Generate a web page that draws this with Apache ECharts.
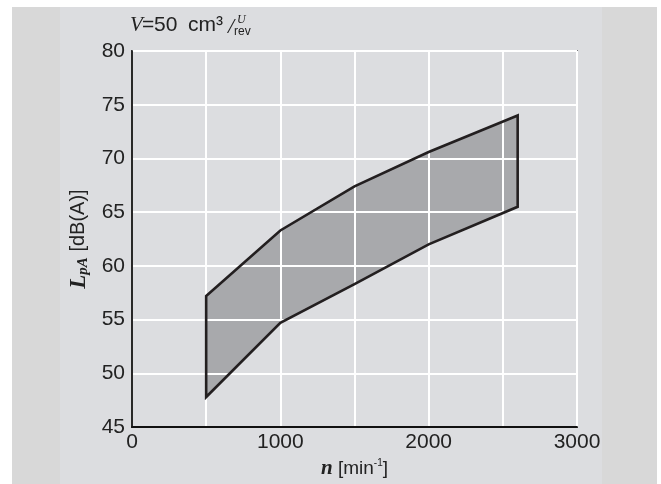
<!DOCTYPE html>
<html>
<head>
<meta charset="utf-8">
<script src="https://cdn.jsdelivr.net/npm/echarts@6/dist/echarts.min.js"></script>
<style>html,body{margin:0;padding:0;background:#fff}#c{width:661px;height:484px}</style>
</head>
<body>
<div id="c"></div>
<script>
// Data
const speed = [500, 1000, 1500, 2000, 2600];          // n [min^-1]
const upperLevel = [57.2, 63.3, 67.4, 70.6, 74.0];    // L_pA upper boundary
const lowerLevel = [47.8, 54.7, 58.3, 62.0, 65.5];    // L_pA lower boundary
const xTicks = [0, 1000, 2000, 3000];
const yTicks = [45, 50, 55, 60, 65, 70, 75, 80];

// polygon: upper boundary then lower boundary reversed
const polyData = [];
for (let i = 0; i < speed.length; i++) polyData.push([speed[i], upperLevel[i]]);
for (let i = speed.length - 1; i >= 0; i--) polyData.push([speed[i], lowerLevel[i]]);

const SANS = '"Liberation Sans", Arial, sans-serif';
const SERIF = '"Liberation Serif", "Times New Roman", serif';
const PANEL = '#dcdde0';

function polyRender(stroke) {
  return function (params, api) {
    if (params.dataIndex !== 0) return null;
    const pts = polyData.map(p => api.coord(p));
    return {
      type: 'polygon',
      shape: { points: pts },
      style: stroke
        ? { fill: null, stroke: '#231f20', lineWidth: 2.6 }
        : { fill: '#a8a9ac', stroke: null }
    };
  };
}

const chart = echarts.init(document.getElementById('c'), null, { renderer: 'canvas' });
chart.setOption({
  backgroundColor: '#ffffff',
  animation: false,
  graphic: [
    { type: 'rect', z: -20, shape: { x: 12, y: 7, width: 645, height: 477 }, style: { fill: '#d8d8d8' } },
    { type: 'rect', z: -19, shape: { x: 60, y: 7, width: 542, height: 477 }, style: { fill: PANEL } },
    { type: 'text', z: 5, x: 130, y: 36, style: { text: 'V', font: 'italic 21px ' + SERIF, fill: '#222', textVerticalAlign: 'bottom' } },
    { type: 'text', z: 5, x: 142, y: 36, style: { text: '=', font: '21px ' + SANS, fill: '#222', textVerticalAlign: 'bottom' } },
    { type: 'text', z: 5, x: 154, y: 36, style: { text: '50', font: '21px ' + SANS, fill: '#222', textVerticalAlign: 'bottom' } },
    { type: 'text', z: 5, x: 188, y: 36, style: { text: 'cm³', font: '21px ' + SANS, fill: '#222', textVerticalAlign: 'bottom' } },
    { type: 'text', z: 5, x: 228, y: 38, style: { text: '/', font: 'italic 22px ' + SERIF, fill: '#222', textVerticalAlign: 'bottom' } },
    { type: 'text', z: 5, x: 237, y: 26, style: { text: 'U', font: 'italic 12px ' + SERIF, fill: '#222', textVerticalAlign: 'bottom' } },
    { type: 'text', z: 5, x: 234, y: 38, style: { text: 'rev', font: '12px ' + SANS, fill: '#222', textVerticalAlign: 'bottom' } }
  ],
  grid: {
    left: 132, right: 84, top: 51, bottom: 51,
    show: true, backgroundColor: PANEL, borderColor: '#3a3a3a', borderWidth: 1.6
  },
  xAxis: {
    type: 'value', min: 0, max: 3000, interval: 500, z: 5,
    axisLine: { show: true, onZero: false, lineStyle: { color: '#111', width: 1.8 } },
    axisTick: { show: false },
    splitLine: { show: true, lineStyle: { color: '#ffffff', width: 2 } },
    axisLabel: {
      margin: 5, color: '#222', fontFamily: SANS, fontSize: 21,
      formatter: v => xTicks.indexOf(v) >= 0 ? String(v) : ''
    },
    name: '{n|n}{t| [min}{s|-1}{t|]}',
    nameLocation: 'middle', nameGap: 28,
    nameTextStyle: {
      rich: {
        n: { fontFamily: SERIF, fontStyle: 'italic', fontWeight: 'bold', fontSize: 21, color: '#222', lineHeight: 20 },
        t: { fontFamily: SANS, fontSize: 19, color: '#222', lineHeight: 20 },
        s: { fontFamily: SANS, fontSize: 10, color: '#222', verticalAlign: 'top', lineHeight: 20 }
      }
    }
  },
  yAxis: {
    type: 'value', min: 45, max: 80, interval: 5, z: 5,
    axisLine: { show: true, onZero: false, lineStyle: { color: '#111', width: 1.8 } },
    axisTick: { show: false },
    splitLine: { show: true, lineStyle: { color: '#ffffff', width: 2 } },
    axisLabel: {
      margin: 7, color: '#222', fontFamily: SANS, fontSize: 21,
      formatter: v => yTicks.indexOf(v) >= 0 ? String(v) : ''
    },
    name: '{L|L}{p|pA}{t| [dB(A)]}',
    nameLocation: 'middle', nameGap: 40, nameRotate: 90,
    nameTextStyle: {
      rich: {
        L: { fontFamily: SERIF, fontStyle: 'italic', fontWeight: 'bold', fontSize: 23, color: '#222', lineHeight: 24 },
        p: { fontFamily: SERIF, fontStyle: 'italic', fontWeight: 'bold', fontSize: 15, color: '#222', verticalAlign: 'bottom', lineHeight: 24 },
        t: { fontFamily: SANS, fontSize: 20, color: '#222', lineHeight: 24 }
      }
    }
  },
  series: [
    { type: 'custom', coordinateSystem: 'cartesian2d', z: 2, renderItem: polyRender(false), data: polyData, silent: true },
    { type: 'custom', coordinateSystem: 'cartesian2d', z: 10, renderItem: polyRender(true), data: polyData, silent: true }
  ]
});
</script>
</body>
</html>
